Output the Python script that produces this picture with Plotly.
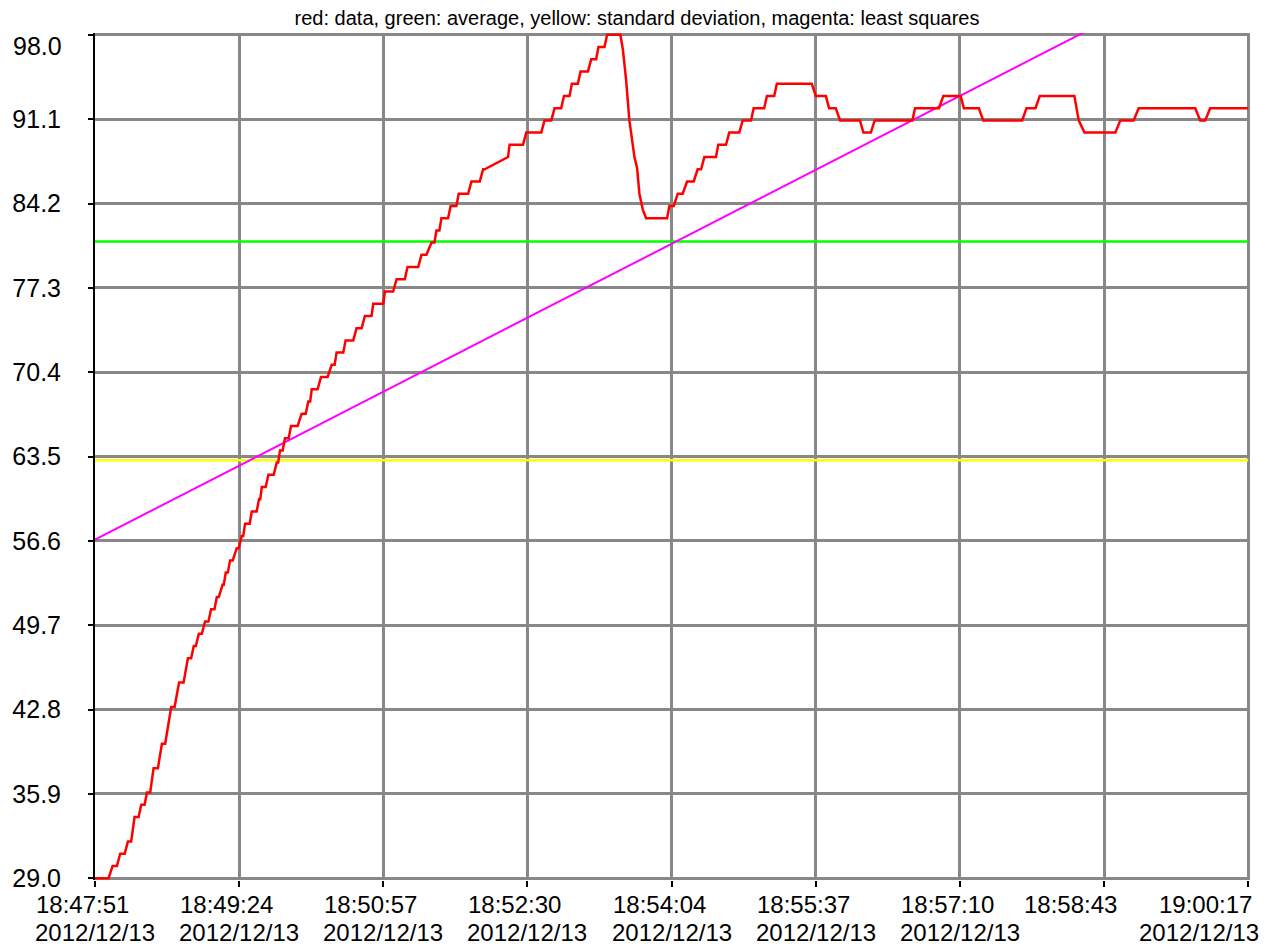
import plotly.graph_objects as go
import pandas as pd

# ---------------- data ----------------
start_time = "2012-12-13 18:47:51"
span_seconds = 746  # 18:47:51 -> 19:00:17

# seconds after start
t_sec = [
    0, 8.8, 11.4, 14.2, 16.3, 19.2, 21.3, 23.4, 25.6, 28.2,
    29.9, 32.1, 33.6, 35.7, 37.9, 40.7, 43.3, 45.4, 49.3, 51.5,
    54.4, 57.3, 60.1, 62.2, 63.9, 65.2, 67.2, 69.1, 71.2, 73.4,
    75.1, 77.3, 78.8, 80.1, 82.5, 83.3, 84.6, 85.9, 87.4, 89.1,
    91.7, 93.0, 94.9, 95.9, 97.1, 100.1, 101.4, 104.6, 106.1, 106.9,
    107.9, 110.4, 112.2, 115.6, 117.6, 118.5, 119.7, 121.4, 122.9, 125.3,
    126.8, 131.1, 133.7, 136.3, 138.0, 139.2, 140.2, 144.0, 146.2, 150.5,
    153.1, 155.0, 156.3, 160.6, 162.1, 167.1, 169.2, 172.5, 174.6, 178.9,
    180.0, 186.5, 187.5, 192.9, 195.1, 200.4, 202.2, 209.1, 211.2, 214.4,
    217.7, 219.6, 220.9, 222.8, 224.1, 228.4, 230.1, 233.8, 235.3, 241.4,
    243.5, 248.9, 251.1, 252.1, 267.2, 268.2, 276.9, 279.0, 288.7, 290.8,
    295.2, 297.3, 301.6, 303.4, 307.0, 308.5, 312.4, 314.1, 318.9, 321.0,
    324.2, 325.7, 329.6, 331.3, 339.9, 341.5, 343.6, 345.7, 349.0, 350.7,
    352.2, 354.4, 356.5, 370.1, 371.6, 374.4, 377.0, 380.2, 383.0, 387.3,
    389.9, 392.1, 394.2, 401.7, 403.2, 408.2, 410.3, 416.8, 419.0, 424.4,
    426.1, 432.9, 434.7, 439.4, 441.1, 463.7, 466.3, 472.8, 474.9, 479.2,
    482.0, 494.9, 497.1, 501.9, 504.4, 528.8, 530.5, 546.0, 548.8, 560.0,
    562.1, 571.8, 574.6, 599.8, 602.6, 608.4, 611.2, 633.6, 636.4, 640.1,
    660.1, 663.3, 671.9, 675.2, 711.8, 715.0, 718.2, 721.4, 746.0,
]
val = [
    29, 29, 30, 30, 31, 31, 32, 32, 34, 34,
    35, 35, 36, 36, 38, 38, 40, 40, 43, 43,
    45, 45, 47, 47, 48, 48, 49, 49, 50, 50,
    51, 51, 52, 52, 53, 53, 54, 54, 55, 55,
    56, 56, 57, 57, 58, 58, 59, 59, 60, 60,
    61, 61, 62, 62, 63, 63, 64, 64, 65, 65,
    66, 66, 67, 67, 68, 68, 69, 69, 70, 70,
    71, 71, 72, 72, 73, 73, 74, 74, 75, 75,
    76, 76, 77, 77, 78, 78, 79, 79, 80, 80,
    81, 81, 82, 82, 83, 83, 84, 84, 85, 85,
    86, 86, 87, 87, 88, 89, 89, 90, 90, 91,
    91, 92, 92, 93, 93, 94, 94, 95, 95, 96,
    96, 97, 97, 98, 98, 96.8, 94.3, 91, 88, 87.1,
    85, 83.7, 83, 83, 84, 84, 85, 85, 86, 86,
    87, 87, 88, 88, 89, 89, 90, 90, 91, 91,
    92, 92, 93, 93, 94, 94, 93, 93, 92, 92,
    91, 91, 90, 90, 91, 91, 92, 92, 93, 93,
    92, 92, 91, 91, 92, 92, 93, 93, 91, 90,
    90, 91, 91, 92, 92, 91, 91, 92, 92,
]
assert len(t_sec) == len(val)

average_value = 81.1
std_dev_value = 63.2
least_sq_start = 56.7
least_sq_end = 105.1

y_tick_vals = [29.0, 35.9, 42.8, 49.7, 56.6, 63.5, 70.4, 77.3, 84.2, 91.1, 98.0]
x_tick_times = ["18:47:51", "18:49:24", "18:50:57", "18:52:30", "18:54:04",
                "18:55:37", "18:57:10", "18:58:43", "19:00:17"]
x_tick_dates = ["2012/12/13", "2012/12/13", "2012/12/13", "2012/12/13", "2012/12/13",
                "2012/12/13", "2012/12/13", "", "2012/12/13"]

title_text = "red: data, green: average, yellow: standard deviation, magenta: least squares"

# ---------------- build ----------------
t0 = pd.Timestamp(start_time)


def ts(s):
    return t0 + pd.to_timedelta(s, unit="s")


x_data = [ts(s) for s in t_sec]
x_ends = [ts(0), ts(span_seconds)]
n_int = len(x_tick_times) - 1
tick_pos = [ts(i * span_seconds / n_int) for i in range(len(x_tick_times))]

FONT = "Liberation Sans, Arial, Helvetica, sans-serif"
GRID = "#888888"
XFS = 24
TIME_DY = -24
DATE_DY = -52

fig = go.Figure()
fig.add_trace(go.Scatter(x=x_ends, y=[average_value] * 2, mode="lines",
                         line=dict(color="#00ff00", width=2.5), hoverinfo="skip"))
fig.add_trace(go.Scatter(x=x_ends, y=[std_dev_value] * 2, mode="lines",
                         line=dict(color="#ffff00", width=2.5), hoverinfo="skip"))
fig.add_trace(go.Scatter(x=x_ends, y=[least_sq_start, least_sq_end], mode="lines",
                         line=dict(color="#ff00ff", width=2), hoverinfo="skip"))
fig.add_trace(go.Scatter(x=x_data, y=val, mode="lines",
                         line=dict(color="#ff0000", width=2.5)))

annotations = []
last = len(x_tick_times) - 1
half_date = 0.5 * 5.004 * XFS  # half width of a date line (Arial metrics)
for i, (tt, dd) in enumerate(zip(x_tick_times, x_tick_dates)):
    pos = tick_pos[i]
    f = dict(family=FONT, size=XFS, color="black")
    common = dict(x=pos, xref="x", y=0, yref="paper", showarrow=False,
                  yanchor="middle", font=f, borderpad=0)
    if i == last:
        annotations.append(dict(text=tt, xanchor="right", xshift=5, yshift=TIME_DY, **common))
        annotations.append(dict(text=dd, xanchor="right", xshift=12, yshift=DATE_DY, **common))
    elif dd == "":
        annotations.append(dict(text=tt, xanchor="left", xshift=-81, yshift=TIME_DY, **common))
    else:
        annotations.append(dict(text=tt, xanchor="left", xshift=-half_date, yshift=TIME_DY, **common))
        annotations.append(dict(text=dd, xanchor="center", yshift=DATE_DY, **common))

# top y label sits below its tick
annotations.append(dict(x=0, xref="paper", y=y_tick_vals[-1], yref="y",
                        text=f"{y_tick_vals[-1]:.1f}", showarrow=False,
                        xanchor="right", yanchor="top", xshift=-31, yshift=5,
                        font=dict(family=FONT, size=25, color="black")))

fig.update_layout(
    width=1274, height=946, autosize=False,
    margin=dict(l=93, r=24, t=33, b=66, pad=0),
    paper_bgcolor="white", plot_bgcolor="white",
    showlegend=False,
    title=dict(text=title_text, x=0.5, xref="container", xanchor="center",
               y=1 - 18 / 946, yref="container", yanchor="middle",
               font=dict(family=FONT, size=20, color="black")),
    annotations=annotations,
    xaxis=dict(
        type="date",
        range=[ts(0), ts(span_seconds + 1.2)],
        tickmode="array", tickvals=tick_pos, showticklabels=False,
        ticks="outside", ticklen=6, tickwidth=2, tickcolor="black",
        showgrid=True, gridcolor=GRID, gridwidth=3,
        showline=False, zeroline=False, layer="below traces",
    ),
    yaxis=dict(
        range=[28.85, 98.15],
        tickmode="array", tickvals=y_tick_vals,
        ticktext=[f"{v:.1f}" for v in y_tick_vals[:-1]] + [""],
        tickfont=dict(family=FONT, size=25, color="black"),
        ticks="outside", ticklen=5, tickwidth=2, tickcolor="black",
        ticklabelstandoff=22,
        showline=True, linecolor="black", linewidth=2,
        showgrid=True, gridcolor=GRID, gridwidth=3,
        zeroline=False, layer="below traces",
    ),
)

fig.write_html("out.html", config={"displayModeBar": False},
               post_script="document.body.style.margin='0';document.body.style.overflow='hidden';")
